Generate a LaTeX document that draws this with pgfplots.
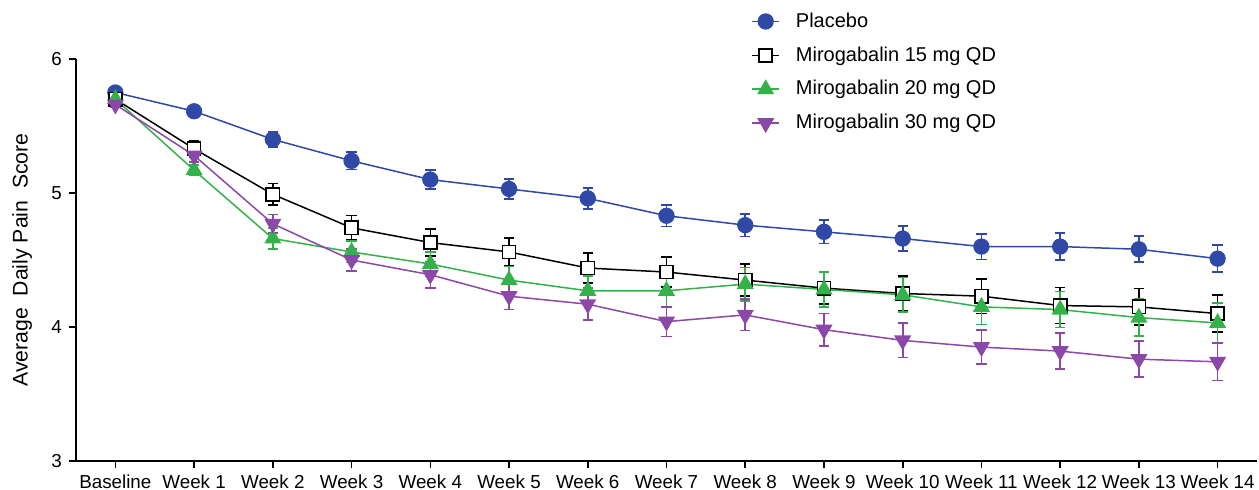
\documentclass[border=0pt]{standalone}
\usepackage{fontspec}
\setmainfont{Liberation Sans}
\usepackage{pgfplots}
\pgfplotsset{compat=1.18}
\definecolor{plblue}{HTML}{3049A6}
\definecolor{mgreen}{HTML}{33B24A}
\definecolor{mpurple}{HTML}{8C48A9}
\begin{document}
\begin{tikzpicture}
\begin{axis}[
  scale only axis,
  width=590.5pt, height=201pt,
  xmin=-0.5, xmax=14.5,
  ymin=3, ymax=6,
  axis x line*=bottom, axis y line*=left,
  axis line style={line width=1pt, black},
  tick style={line width=0.8pt, black},
  tick align=outside,
  major tick length=3.5pt,
  xtick={0,...,14},
  xticklabels={Baseline,Week 1,Week 2,Week 3,Week 4,Week 5,Week 6,Week 7,Week 8,Week 9,Week 10,Week 11,Week 12,Week 13,Week 14},
  ytick={3,4,5,6},
  yticklabel style={/pgf/number format/assume math mode=true},
  ticklabel style={font=\fontsize{9.4pt}{11pt}\selectfont},
  ylabel={Average\ \ Daily Pain\ \ Score},
  ylabel style={at={(axis description cs:-0.0457,0.5)}, anchor=center, font=\fontsize{10.6pt}{12pt}\selectfont},
  every axis plot/.append style={line width=0.75pt},
  error bars/y dir=both,
  error bars/y explicit,
  error bars/error bar style={line width=0.8pt},
  error bars/error mark options={rotate=90, mark size=2.6pt, line width=0.8pt},
  legend cell align=left,
  legend style={draw=none, fill=none, at={(0.5665,1.136)}, anchor=north west,
    font=\fontsize{10pt}{12pt}\selectfont, row sep=4.2pt,
    /tikz/every odd column/.append style={column sep=6pt}},
  legend image code/.code={\draw[mark repeat=2,mark phase=2] plot coordinates {(0pt,0pt) (6.75pt,0pt) (13.5pt,0pt)};},
]
% Placebo
\addplot[color=plblue, mark=*, mark size=3.7pt, mark options={fill=plblue, draw=plblue}]
  table[x=x, y=y, y error=e] {
x y e
0 5.75 0.02
1 5.61 0.03
2 5.40 0.055
3 5.24 0.065
4 5.10 0.072
5 5.03 0.076
6 4.96 0.078
7 4.83 0.080
8 4.76 0.085
9 4.71 0.087
10 4.66 0.092
11 4.60 0.095
12 4.60 0.100
13 4.58 0.097
14 4.51 0.100
};
\addlegendentry{Placebo}
% Mirogabalin 15 mg QD
\addplot[color=black, mark=square*, mark size=3.3pt, mark options={fill=white, draw=black, line width=0.8pt}]
  table[x=x, y=y, y error=e] {
x y e
0 5.70 0.02
1 5.33 0.06
2 4.99 0.08
3 4.74 0.093
4 4.63 0.100
5 4.56 0.104
6 4.44 0.110
7 4.41 0.113
8 4.35 0.120
9 4.29 0.120
10 4.25 0.130
11 4.23 0.130
12 4.16 0.134
13 4.15 0.137
14 4.10 0.138
};
\addlegendentry{Mirogabalin 15 mg QD}
% Mirogabalin 20 mg QD
\addplot[color=mgreen, mark=triangle*, mark size=4.2pt, mark options={fill=mgreen, draw=mgreen}]
  table[x=x, y=y, y error=e] {
x y e
0 5.70 0.02
1 5.17 0.04
2 4.66 0.077
3 4.56 0.080
4 4.47 0.090
5 4.35 0.100
6 4.27 0.110
7 4.27 0.120
8 4.32 0.125
9 4.28 0.130
10 4.24 0.130
11 4.15 0.130
12 4.13 0.135
13 4.07 0.138
14 4.03 0.147
};
\addlegendentry{Mirogabalin 20 mg QD}
% Mirogabalin 30 mg QD
\addplot[color=mpurple, mark=triangle*, mark size=4.2pt, mark options={fill=mpurple, draw=mpurple, rotate=180}]
  table[x=x, y=y, y error=e] {
x y e
0 5.66 0.02
1 5.28 0.05
2 4.77 0.07
3 4.50 0.08
4 4.39 0.10
5 4.23 0.10
6 4.17 0.12
7 4.04 0.11
8 4.09 0.117
9 3.98 0.12
10 3.90 0.128
11 3.85 0.128
12 3.82 0.133
13 3.76 0.134
14 3.74 0.140
};
\addlegendentry{Mirogabalin 30 mg QD}
\end{axis}
\pgfresetboundingbox
\useasboundingbox (current axis.south west) ++(-38pt,-14.5pt) rectangle ++(629.5pt,245pt);
\end{tikzpicture}
\end{document}
